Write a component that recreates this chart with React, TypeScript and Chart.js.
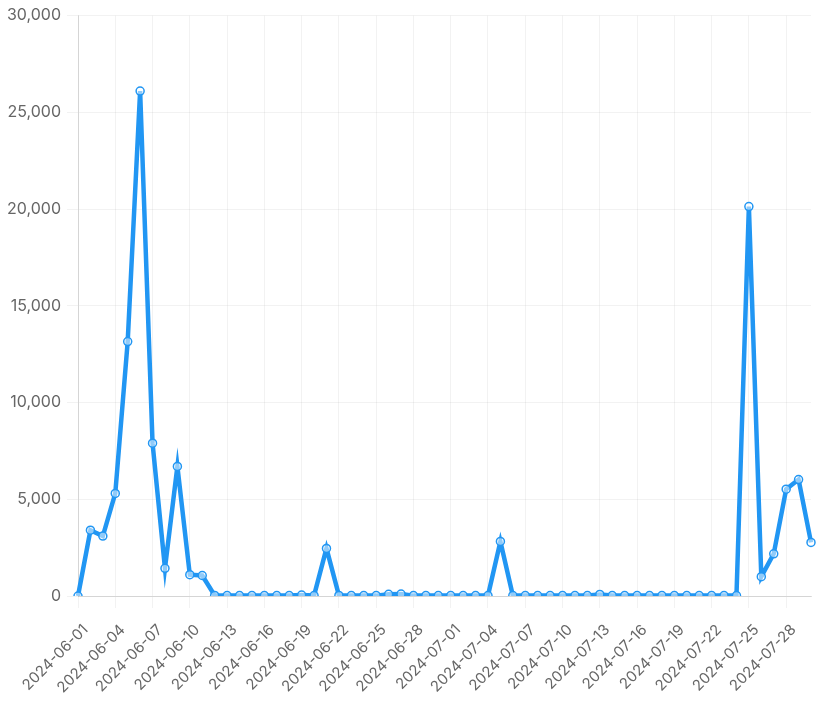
import React, { useEffect, useRef } from "react";
import { Chart, registerables } from "chart.js";

Chart.register(...registerables);

const labels: string[] = [
  "2024-06-01", "2024-06-02", "2024-06-03", "2024-06-04", "2024-06-05", "2024-06-06",
  "2024-06-07", "2024-06-08", "2024-06-09", "2024-06-10", "2024-06-11", "2024-06-12",
  "2024-06-13", "2024-06-14", "2024-06-15", "2024-06-16", "2024-06-17", "2024-06-18",
  "2024-06-19", "2024-06-20", "2024-06-21", "2024-06-22", "2024-06-23", "2024-06-24",
  "2024-06-25", "2024-06-26", "2024-06-27", "2024-06-28", "2024-06-29", "2024-06-30",
  "2024-07-01", "2024-07-02", "2024-07-03", "2024-07-04", "2024-07-05", "2024-07-06",
  "2024-07-07", "2024-07-08", "2024-07-09", "2024-07-10", "2024-07-11", "2024-07-12",
  "2024-07-13", "2024-07-14", "2024-07-15", "2024-07-16", "2024-07-17", "2024-07-18",
  "2024-07-19", "2024-07-20", "2024-07-21", "2024-07-22", "2024-07-23", "2024-07-24",
  "2024-07-25", "2024-07-26", "2024-07-27", "2024-07-28", "2024-07-29", "2024-07-30",
];

const values: number[] = [
  0, 3400, 3100, 5300, 13150, 26100,
  7900, 1430, 6700, 1100, 1060, 30,
  20, 20, 20, 20, 20, 20,
  50, 20, 2460, 30, 20, 20,
  20, 90, 100, 20, 20, 20,
  20, 20, 20, 20, 2820, 20,
  20, 20, 20, 20, 20, 20,
  80, 20, 20, 20, 20, 20,
  20, 20, 20, 20, 20, 20,
  20130, 1000, 2180, 5520, 6020, 2770,
];

const yMin = 0;
const yMax = 30000;
const yStep = 5000;

const lineColor = "#2196F3";
const fontFamily = "Inter, 'Liberation Sans', Arial, sans-serif";

export default function App() {
  const ref = useRef<HTMLCanvasElement | null>(null);

  useEffect(() => {
    if (!ref.current) return;
    const chart = new Chart(ref.current, {
      type: "line",
      data: {
        labels,
        datasets: [
          {
            data: values,
            borderColor: lineColor,
            backgroundColor: "rgba(255,255,255,0.5)",
            borderWidth: 4.5,
            pointRadius: 4,
            pointBorderWidth: 1.5,
            pointBorderColor: lineColor,
            pointBackgroundColor: "rgba(255,255,255,0.5)",
            tension: 0,
            fill: false,
          },
        ],
      },
      options: {
        responsive: false,
        animation: false,
        layout: { padding: { left: 0, right: 8, top: 6, bottom: 0 } },
        plugins: {
          legend: { display: false },
          tooltip: { enabled: false },
        },
        scales: {
          x: {
            grid: { color: "rgba(0,0,0,0.05)", tickLength: 12 },
            border: { color: "rgba(0,0,0,0.12)" },
            ticks: {
              color: "#666",
              font: { size: 15, family: fontFamily },
              maxRotation: 45,
              minRotation: 45,
              autoSkip: true,
              padding: 13,
              labelOffset: 7.5,
            },
            afterFit: (scale: any) => {
              scale.height = 109;
            },
          },
          y: {
            min: yMin,
            max: yMax,
            grid: { color: "rgba(0,0,0,0.05)", tickLength: 11 },
            border: { color: "rgba(0,0,0,0.12)" },
            ticks: {
              stepSize: yStep,
              color: "#666",
              font: { size: 16, family: fontFamily },
              padding: 6,
              callback: (v: any) => Number(v).toLocaleString("en-US"),
            },
            afterFit: (scale: any) => {
              scale.width = 78;
            },
          },
        },
      },
    });
    return () => chart.destroy();
  }, []);

  return (
    <div style={{ position: "fixed", left: 0, top: 0, width: 819, height: 705 }}>
      <canvas ref={ref} width={819} height={705} />
    </div>
  );
}
